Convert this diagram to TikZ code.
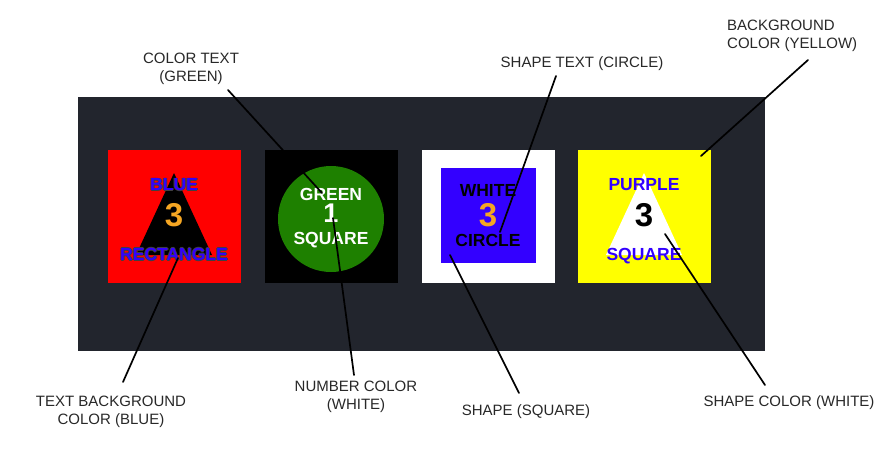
\documentclass[tikz,border=0pt]{standalone}
\usepackage{fontspec}
\setmainfont{Liberation Sans}
\definecolor{panel}{RGB}{34,37,45}
\definecolor{txtblue}{RGB}{51,0,255}
\definecolor{numorange}{RGB}{245,166,35}
\definecolor{circgreen}{RGB}{30,128,0}
\definecolor{cardred}{RGB}{255,0,0}
\definecolor{cardyellow}{RGB}{255,255,0}
\definecolor{labelgray}{RGB}{40,40,40}
\newcommand{\halotext}[2]{%
  \makebox[0pt][l]{\hspace*{-0.9pt}\textcolor{black!75}{#2}}%
  \makebox[0pt][l]{\hspace*{0.9pt}\textcolor{black!75}{#2}}%
  \makebox[0pt][l]{\raisebox{0.9pt}{\textcolor{black!75}{#2}}}%
  \makebox[0pt][l]{\raisebox{-0.9pt}{\textcolor{black!75}{#2}}}%
  \textcolor{#1}{#2}}
\begin{document}
\begin{tikzpicture}[x=1pt,y=-1pt,
  card/.style={minimum width=133pt, minimum height=133pt, inner sep=0pt, outer sep=0pt, anchor=north west},
  cardtxt/.style={font=\fontsize{17.5}{20}\selectfont\bfseries, inner sep=0pt},
  bignum/.style={font=\fontsize{33}{36}\selectfont\bfseries, inner sep=0pt},
  midnum/.style={font=\fontsize{27}{30}\selectfont\bfseries, inner sep=0pt, text height=19pt, text depth=0pt},
  lbl/.style={font=\fontsize{15}{18.5}\selectfont, text=labelgray, align=center, inner sep=0pt},
  leader/.style={line width=1.7pt, black, line cap=round}]

\useasboundingbox (0,0) rectangle (891,469);
\fill[white] (0,0) rectangle (891,469);
\node[fill=panel, minimum width=687pt, minimum height=254pt, anchor=north west, inner sep=0pt] (panel) at (78,97) {};

% cards
\node[card, fill=cardred] (c1) at (108,150) {};
\node[card, fill=black] (c2) at (265,150) {};
\node[card, fill=white] (c3) at (422,150) {};
\node[card, fill=cardyellow] (c4) at (578,150) {};

% shapes
\fill[black] (174,173) -- (212,255) -- (136,255) -- cycle;
\node[circle, fill=circgreen, minimum size=106pt, inner sep=0pt] (circ) at (331,219) {};
\node[fill=txtblue, minimum width=95pt, minimum height=95pt, inner sep=0pt] (sq) at (488.5,215.5) {};
\fill[white] (644,173) -- (682,255) -- (606,255) -- cycle;

% card 1 texts
\node[cardtxt] (t1a) at (174,185) {\halotext{txtblue}{BLUE}};
\node[bignum, text=numorange] (t1b) at (174,215) {3};
\node[cardtxt] (t1c) at (174,254.5) {\halotext{txtblue}{RECTANGLE}};
% card 2 texts
\node[cardtxt, text=white] (t2a) at (331,194.5) {GREEN};
\node[midnum, text=white] (t2b) at (331,212.5) {1};
\node[cardtxt, text=white] (t2c) at (331,240.5) {SQUARE};
% card 3 texts
\node[cardtxt, text=black] (t3a) at (488,190) {WHITE};
\node[bignum, text=numorange] (t3b) at (488,215) {3};
\node[cardtxt, text=black] (t3c) at (488,240) {CIRCLE};
% card 4 texts
\node[cardtxt, text=txtblue] (t4a) at (644,185) {PURPLE};
\node[bignum, text=black] (t4b) at (644,215) {3};
\node[cardtxt, text=txtblue] (t4c) at (644,256) {SQUARE};

% labels
\node[lbl] (lA) at (191,69) {COLOR TEXT\\(GREEN)};
\node[lbl] (lB) at (582,64) {SHAPE TEXT (CIRCLE)};
\node[lbl, align=left, anchor=west] (lC) at (727,36) {BACKGROUND\\COLOR (YELLOW)};
\node[lbl] (lD) at (111,412) {TEXT BACKGROUND\\COLOR (BLUE)};
\node[lbl] (lE) at (356,397) {NUMBER COLOR\\(WHITE)};
\node[lbl] (lF) at (526,412) {SHAPE (SQUARE)};
\node[lbl] (lG) at (789,403) {SHAPE COLOR (WHITE)};

% connector end points
\coordinate (pA1) at (228,90);   \coordinate (pA2) at (322,193);
\coordinate (pE1) at (354,375);  \coordinate (pE2) at (333,218);
\coordinate (pD1) at (123,382);  \coordinate (pD2) at (178,258);
\coordinate (pF1) at (519,393);  \coordinate (pF2) at (450,255);
\coordinate (pG1) at (765,385);  \coordinate (pG2) at (665,234);
\coordinate (pB1) at (556,76);   \coordinate (pB2) at (500,232);
\coordinate (pC1) at (808,60);   \coordinate (pC2) at (701,156);

\draw[leader] (pA1) -- (pA2);
\draw[leader] (pE1) -- (pE2);
\draw[leader] (pD1) -- (pD2);
\draw[leader] (pF1) -- (pF2);
\draw[leader] (pG1) -- (pG2);
\draw[leader] (pB1) -- (pB2);
\draw[leader] (pC1) -- (pC2);
\end{tikzpicture}
\end{document}
